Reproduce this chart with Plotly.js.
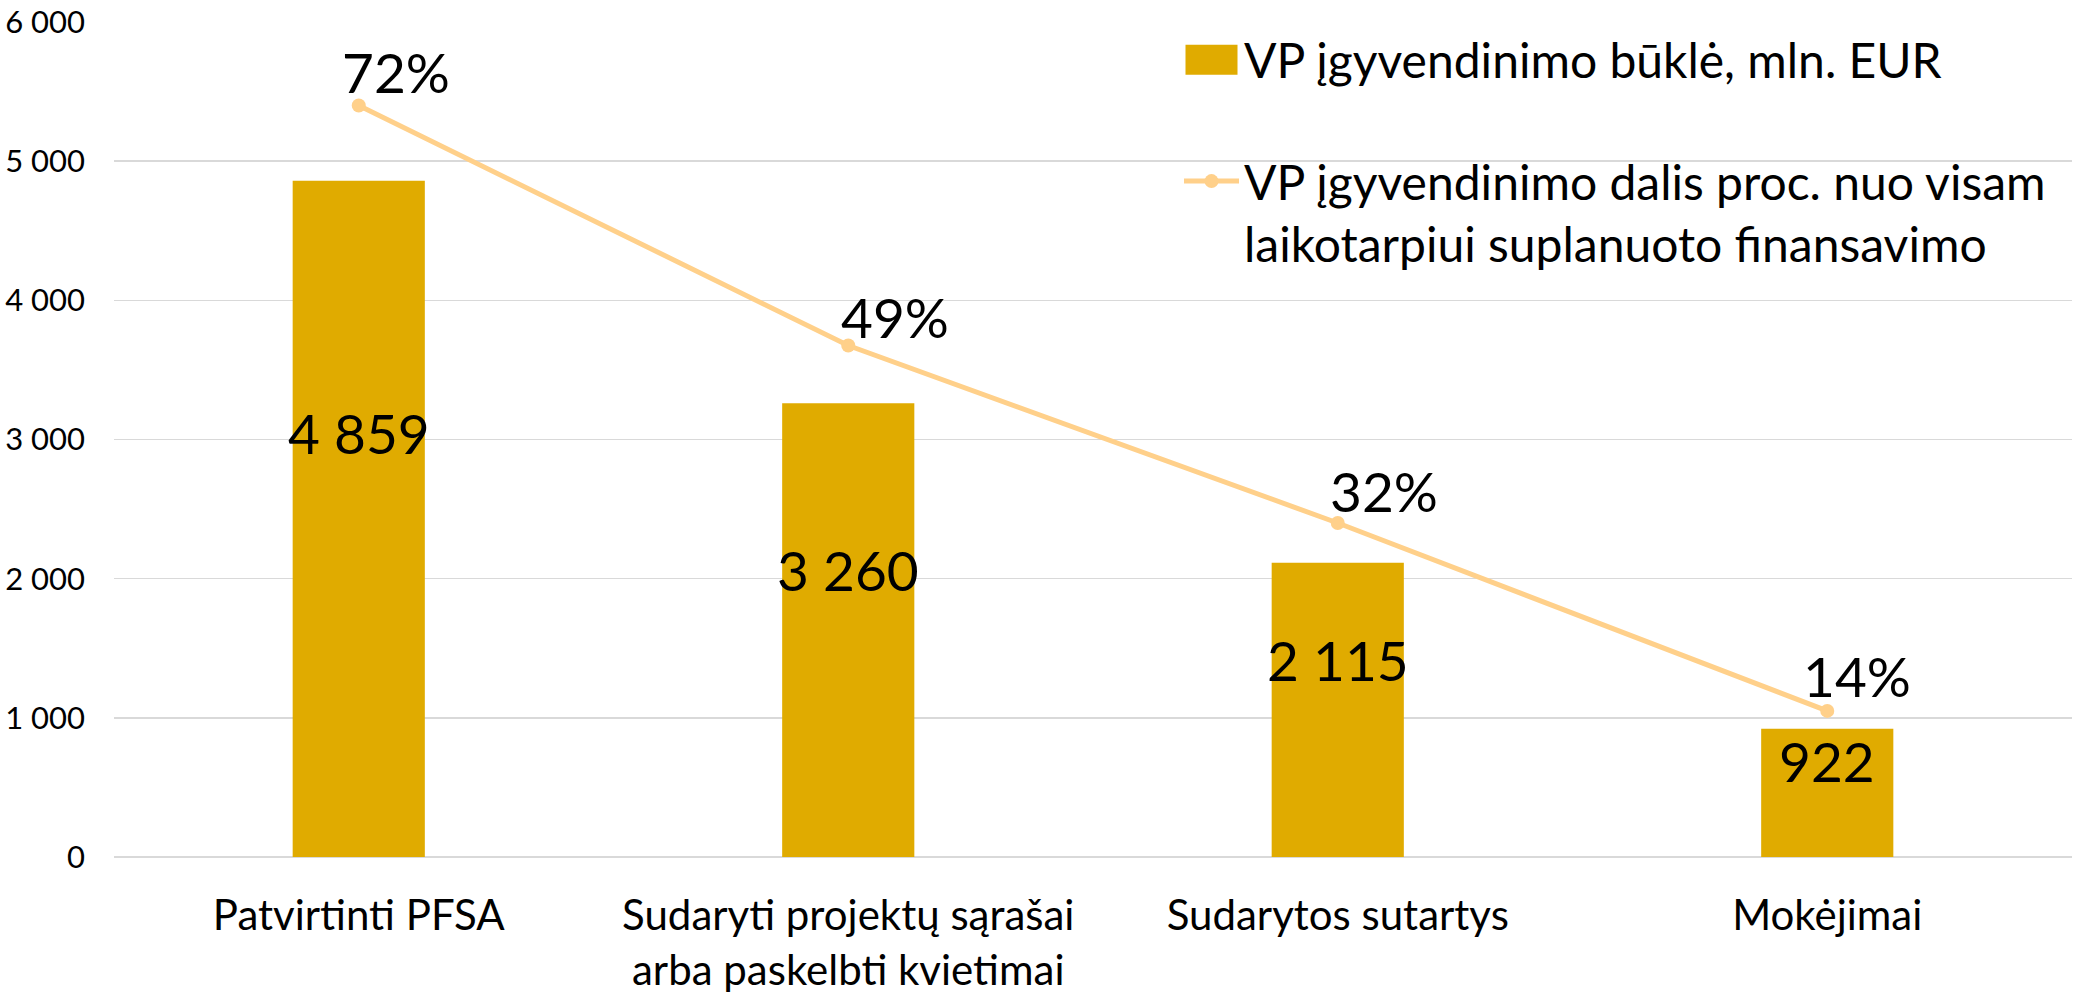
<!DOCTYPE html>
<html>
<head>
<meta charset="utf-8">
<script src="https://cdn.plot.ly/plotly-3.0.1.min.js"></script>
<style>html,body{margin:0;padding:0;background:#fff;}#chart{width:2085px;height:999px;}</style>
</head>
<body>
<div id="chart"></div>
<script>
// ---- data ----
const categories = ['Patvirtinti PFSA', 'Sudaryti projektų sąrašai<br>arba paskelbti kvietimai', 'Sudarytos sutartys', 'Mokėjimai'];
const barValues = [4859, 3260, 2115, 922];            // mln. EUR
const shareValues = [0.72, 0.49, 0.32, 0.14];         // share of total planned funding
const barName = 'VP įgyvendinimo būklė, mln. EUR';
const lineName = 'VP įgyvendinimo dalis proc. nuo visam<br>laikotarpiui suplanuoto finansavimo';
const yTickValues = [0, 1000, 2000, 3000, 4000, 5000, 6000];

// label placement (layout only)
const barLabelY = [3050, 2062, 1415, 690];     // heights (y units) of bar value labels
const pctLabelDx = [37, 47, 46, 30];           // px offsets of % labels from their points
const pctLabelDy = [34, 29, 32, 35];

const FONT = 'Lato, "Open Sans", sans-serif';
const BAR_COLOR = '#E0AB00';
const LINE_COLOR = '#FFD08A';

function fmtThousands(v) { return String(v).replace(/\B(?=(\d{3})+(?!\d))/g, ' '); }

const traces = [
  {
    type: 'bar', x: categories, y: barValues, name: barName,
    marker: {color: BAR_COLOR}, legendgroup: 'a', hoverinfo: 'none'
  },
  {
    type: 'scatter', mode: 'lines+markers', x: categories, y: shareValues, name: lineName,
    yaxis: 'y2', line: {color: LINE_COLOR, width: 5}, marker: {color: LINE_COLOR, size: 14},
    legendgroup: 'b', hoverinfo: 'none'
  }
];

const annotations = [];
categories.forEach((c, i) => {
  annotations.push({
    x: c, y: barLabelY[i], xref: 'x', yref: 'y', text: fmtThousands(barValues[i]),
    showarrow: false, font: {family: FONT, size: 55, color: '#000'}, xanchor: 'center', yanchor: 'middle'
  });
  annotations.push({
    x: c, y: shareValues[i], xref: 'x', yref: 'y2', text: Math.round(shareValues[i] * 100) + '%',
    showarrow: false, font: {family: FONT, size: 55, color: '#000'}, xanchor: 'center', yanchor: 'middle',
    xshift: pctLabelDx[i], yshift: pctLabelDy[i]
  });
});

const layout = {
  width: 2085, height: 999, autosize: false,
  margin: {l: 114, r: 13, t: 22, b: 142, autoexpand: false},
  paper_bgcolor: '#fff', plot_bgcolor: '#fff',
  separators: ', ',
  font: {family: FONT, color: '#000'},
  bargap: 0.73,
  showlegend: true,
  legend: {
    xref: 'container', yref: 'container', x: 1179 / 2085, y: 1 - 22 / 999,
    xanchor: 'left', yanchor: 'top', font: {family: FONT, size: 48, color: '#000'},
    bgcolor: 'rgba(0,0,0,0)', tracegroupgap: 56, itemwidth: 55, valign: 'top', traceorder: 'grouped'
  },
  xaxis: {
    type: 'category', showgrid: false, showline: false, zeroline: false, ticks: '', tickangle: 0,
    tickfont: {family: FONT, size: 42, color: '#000'}, ticklabelstandoff: 30
  },
  yaxis: {
    range: [0, 6000], tickvals: yTickValues, tickformat: ',d', showgrid: true, gridcolor: '#D9D9D9', gridwidth: 1.5,
    zeroline: true, zerolinecolor: '#D9D9D9', zerolinewidth: 1.5, showline: false, ticks: '',
    tickfont: {family: FONT, size: 31, color: '#000'}, ticklabelstandoff: 28
  },
  yaxis2: {
    range: [0, 0.8], overlaying: 'y', side: 'right', visible: false, showgrid: false, zeroline: false
  },
  annotations: annotations
};

function widenBarSwatch() {
  // enlarge the bar legend swatch to match the reference's wide rectangle
  document.querySelectorAll('#chart .legend path').forEach(p => {
    const d = (p.getAttribute('d') || '').replace(/\s/g, '');
    if (d === 'M6,6H-6V-6H6Z') p.setAttribute('d', 'M26,15H-26V-15H26Z');
  });
}

const gd = document.getElementById('chart');
Plotly.newPlot(gd, traces, layout, {displayModeBar: false, staticPlot: true}).then(() => {
  widenBarSwatch();
  gd.on('plotly_afterplot', widenBarSwatch);
  setTimeout(widenBarSwatch, 50);
});
</script>
</body>
</html>
